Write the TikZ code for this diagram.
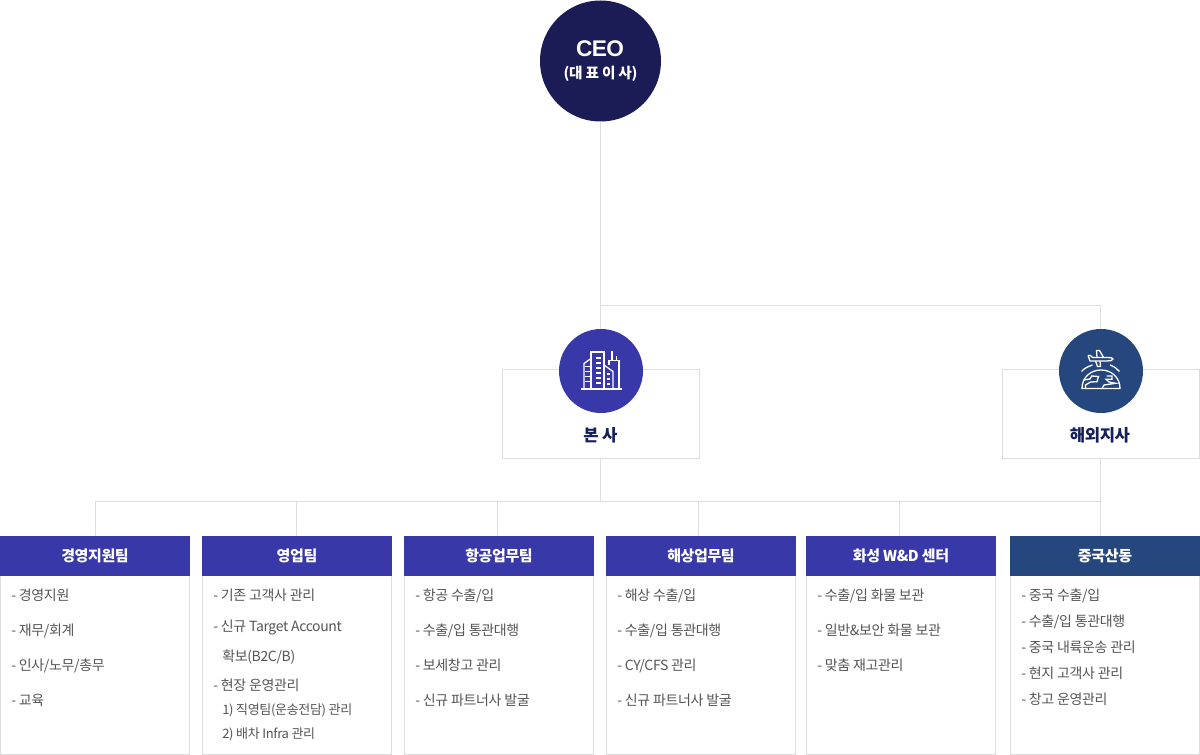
\documentclass[tikz,border=0pt]{standalone}
\usepackage{fontspec}
\setmainfont{Noto Sans CJK KR}[LetterSpace=-2.5]
\newfontfamily\ceofont{Liberation Sans}[LetterSpace=-3]
\usetikzlibrary{backgrounds}
\def\u{0.75pt}
\definecolor{linegray}{HTML}{DDDDDD}
\definecolor{ceonavy}{HTML}{1B1B55}
\definecolor{hqblue}{HTML}{3938A8}
\definecolor{ovblue}{HTML}{26477D}
\definecolor{itemgray}{HTML}{555555}
\definecolor{labelnavy}{HTML}{15205A}
\tikzset{
  conn/.style={draw=linegray,line width=\u},
  frame/.style={draw=linegray,line width=\u,fill=white,inner sep=0pt,rectangle},
  header/.style={rectangle,inner sep=0pt,minimum width=190*\u,minimum height=40*\u,text=white,font=\fontsize{11.25pt}{14pt}\selectfont\bfseries},
  bubble/.style={circle,inner sep=0pt,minimum size=84*\u},
  sitelabel/.style={text=labelnavy,inner sep=0pt,font=\fontsize{12.5pt}{14pt}\selectfont\bfseries},
  item/.style={anchor=base west,inner sep=0pt,text=itemgray,font=\fontsize{10.5pt}{12pt}\selectfont},
  subitem/.style={item,font=\fontsize{9.75pt}{12pt}\selectfont},
  glyph/.style={draw=white,line width=1.3*\u,line join=miter}
}
\newcommand{\teambox}[4]{%
  \node[frame,minimum width=189*\u,minimum height=218.5*\u] (body#1) at (#2,645.25) {};
  \node[header,fill=#3] (head#1) at (#2,556) {#4};
}
\begin{document}
\begin{tikzpicture}[x=\u,y=-\u]
\useasboundingbox (0,0) rectangle (1200,755);

% coordinates for the connector network
\coordinate (busTopR) at (1100.5,305.5);
\coordinate (busTopM) at (600.5,305.5);
\coordinate (busL) at (95.5,501.5);
\coordinate (busM) at (600.5,501.5);
\coordinate (busR) at (1100.5,501.5);
\coordinate (tapA) at (95.5,536);
\coordinate (tapB) at (296.5,536);
\coordinate (tapC) at (497.5,536);
\coordinate (tapD) at (698.5,536);
\coordinate (tapE) at (899.5,536);
\coordinate (tapF) at (1100.5,536);

% site frames
\node[frame,minimum width=197*\u,minimum height=89*\u] (hqbox) at (600.5,414) {};
\node[frame,minimum width=197*\u,minimum height=89*\u] (ovbox) at (1100.5,414) {};

% CEO
\node[circle,inner sep=0pt,minimum size=121*\u,fill=ceonavy] (ceo) at (600.5,61) {};
\node[inner sep=0pt,text=white,font=\fontsize{17pt}{20pt}\ceofont\bfseries] (ceoname) at (600,49) {CEO};
\node[inner sep=0pt,text=white,font=\fontsize{11pt}{12pt}\selectfont\bfseries] (ceotitle) at (600.5,74) {(대 표 이 사)};

% site circles and labels
\node[bubble,fill=hqblue] (hq) at (601,371) {};
\node[bubble,fill=ovblue] (ov) at (1101,371) {};
\node[sitelabel] (hqlabel) at (600.5,435) {본 사};
\node[sitelabel] (ovlabel) at (1100,435) {해외지사};

% building icon
\draw[glyph] (581,389) -- (622,389);
\draw[glyph] (591,389) -- (591,352) -- (604,352) -- (604,389);
\draw[glyph] (584,389) -- (584,363.5) -- (591,358.5);
\draw[glyph] (604,365) -- (613,371.5) -- (613,389);
\draw[glyph] (609,365) -- (609,360.5) -- (619,360.5) -- (619,389);
\draw[glyph] (612,360.5) -- (612,351.5);
\draw[glyph] (616.5,360.5) -- (616.5,356.5);
\foreach \yy in {358,363,368,373,378,383}{
  \draw[glyph,line width=1.6*\u] (596,\yy) -- (600.5,\yy);
}
\foreach \yy in {367,372,377,382}{
  \draw[glyph,line width=1*\u] (584.5,\yy) -- (590,\yy);
}
\foreach \yy in {374,379,384}{
  \draw[glyph,line width=1.6*\u] (607,\yy) -- (610,\yy);
}

% globe and plane icon
\draw[glyph] (1082,388.5) .. controls (1082,377.5) and (1090.5,370) .. (1101,370)
  .. controls (1111.5,370) and (1120,377.5) .. (1120,388.5) -- cycle;
\draw[glyph] (1081.5,371.5) .. controls (1084,368.5) and (1088,366.5) .. (1092.5,365);
\draw[glyph] (1110,365) .. controls (1114,366.5) and (1117,368.5) .. (1119.5,371.5);
\draw[glyph] (1088,355.5) -- (1090.5,355.5) -- (1092.5,357.5) -- (1108,357.5) .. controls (1111,357.5) and (1113,358) .. (1113,359)
  .. controls (1113,360.5) and (1110,361) .. (1107,361) -- (1090,361) -- (1088,355.5);
\draw[glyph] (1097,357.5) -- (1096.5,350.5) -- (1099.5,350.5) -- (1103.5,357.5);
\draw[glyph] (1095.5,361) -- (1097.5,366.5) -- (1100.5,366.5) -- (1100,361);
\draw[glyph] (1083.5,380) -- (1090,379) -- (1091.7,376) -- (1098.5,376.5) -- (1097,381.7) -- (1090.5,382) -- (1085.5,385) -- (1085.5,388.5);
\draw[glyph] (1106.5,376) -- (1112,376) -- (1112,379.2) -- (1106,379.2) -- (1109,382) -- (1115.5,383.3) -- (1104,385) -- (1102,388.5);

% team boxes
\teambox{A}{95}{hqblue}{경영지원팀}
\teambox{B}{297}{hqblue}{영업팀}
\teambox{C}{499}{hqblue}{항공업무팀}
\teambox{D}{701}{hqblue}{해상업무팀}
\teambox{E}{901}{hqblue}{화성 W\&D 센터}
\teambox{F}{1105}{ovblue}{중국산동}

% items A
\node[item] (a1) at (11,600.5) {- 경영지원};
\node[item] (a2) at (11,635.5) {- 재무/회계};
\node[item] (a3) at (11,670.5) {- 인사/노무/총무};
\node[item] (a4) at (11,705.5) {- 교육};
% items B
\node[item] (b1) at (213,600.5) {- 기존 고객사 관리};
\node[item] (b2) at (213,631) {- 신규 Target Account};
\node[item] (b3) at (222,661) {확보(B2C/B)};
\node[item] (b4) at (213,690.5) {- 현장 운영관리};
\node[subitem] (b5) at (222,714) {1) 직영팀(운송전담) 관리};
\node[subitem] (b6) at (222,738) {2) 배차 Infra 관리};
% items C
\node[item] (c1) at (415,600.5) {- 항공 수출/입};
\node[item] (c2) at (415,635.5) {- 수출/입 통관대행};
\node[item] (c3) at (415,670.5) {- 보세창고 관리};
\node[item] (c4) at (415,705.5) {- 신규 파트너사 발굴};
% items D
\node[item] (d1) at (617,600.5) {- 해상 수출/입};
\node[item] (d2) at (617,635.5) {- 수출/입 통관대행};
\node[item] (d3) at (617,670.5) {- CY/CFS 관리};
\node[item] (d4) at (617,705.5) {- 신규 파트너사 발굴};
% items E
\node[item] (e1) at (817,600.5) {- 수출/입 화물 보관};
\node[item] (e2) at (817,635.5) {- 일반\&보안 화물 보관};
\node[item] (e3) at (817,670.5) {- 맞춤 재고관리};
% items F
\node[item] (f1) at (1021,600.5) {- 중국 수출/입};
\node[item] (f2) at (1021,626.5) {- 수출/입 통관대행};
\node[item] (f3) at (1021,652.5) {- 중국 내륙운송 관리};
\node[item] (f4) at (1021,678.5) {- 현지 고객사 관리};
\node[item] (f5) at (1021,704.5) {- 창고 운영관리};

% connectors
\begin{scope}[on background layer]
  \draw[conn] (ceo.south) -- (ceo.south |- hq.north);
  \draw[conn] (busTopM) -- (busTopR) -- (busTopR |- ov.north);
  \draw[conn] (hqbox.south) -- (busM);
  \draw[conn] (ovbox.south) -- (tapF);
  \draw[conn] (busR) -- (busL) -- (tapA);
  \draw[conn] (tapB |- busL) -- (tapB);
  \draw[conn] (tapC |- busL) -- (tapC);
  \draw[conn] (tapD |- busL) -- (tapD);
  \draw[conn] (tapE |- busL) -- (tapE);
\end{scope}
\end{tikzpicture}
\end{document}
